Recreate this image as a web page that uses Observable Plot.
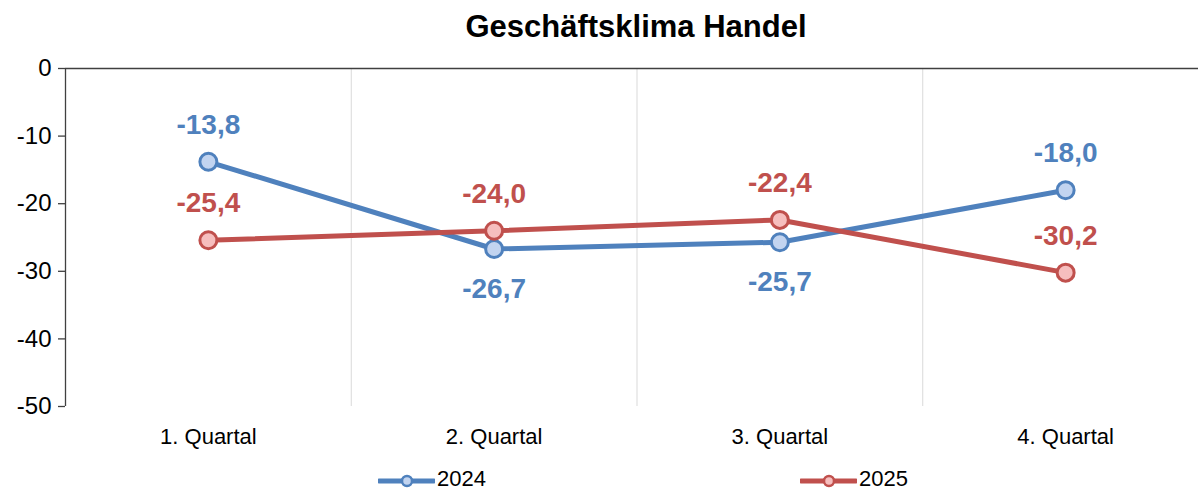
<!DOCTYPE html>
<html>
<head>
<meta charset="utf-8">
<script src="https://cdn.jsdelivr.net/npm/d3@7"></script>
<script src="https://cdn.jsdelivr.net/npm/@observablehq/plot@0.6"></script>
<style>
  html, body { margin: 0; padding: 0; background: #fff; overflow: hidden; }
  body { width: 1198px; height: 491px; font-family: "Liberation Sans", Arial, sans-serif; }
  #title { height: 54px; line-height: 54px; text-align: center; font-weight: bold; font-size: 31px; color: #000; padding-left: 74px; box-sizing: border-box; }
  #chart svg { display: block; }
  #legend { position: relative; height: 37px; }
  .swatch { position: absolute; top: 19px; display: block; }
  .label { position: absolute; top: 12px; font-size: 22px; line-height: 25px; color: #000; white-space: nowrap; }
</style>
</head>
<body>
<div id="title">Geschäftsklima Handel</div>
<div id="chart"></div>
<div id="legend"></div>
<script>
// ---- data ----
const quarters = ["1. Quartal", "2. Quartal", "3. Quartal", "4. Quartal"];
const seriesNames = ["2024", "2025"];
const values2024 = [-13.8, -26.7, -25.7, -18.0];
const values2025 = [-25.4, -24.0, -22.4, -30.2];
const yTicks = [0, -10, -20, -30, -40, -50];

// ---- styles ----
const colors = {"2024": "#4F81BD", "2025": "#C0504D"};
const fills = {"2024": "#C2D4F0", "2025": "#F6BEBE"};

const locale = d3.formatLocale({decimal: ",", thousands: ".", grouping: [3], currency: ["", "€"], minus: "-"});
const fmt = locale.format(".1f");

const rows = [];
quarters.forEach((q, i) => {
  rows.push({series: "2024", qi: i + 1, value: values2024[i], other: values2025[i]});
  rows.push({series: "2025", qi: i + 1, value: values2025[i], other: values2024[i]});
});
const r2024 = rows.filter(d => d.series === "2024");
const r2025 = rows.filter(d => d.series === "2025");
const labelsAbove = rows.filter(d => d.series === "2025" || d.value > d.other);
const labelsBelow = rows.filter(d => !(d.series === "2025" || d.value > d.other));

const gridPositions = d3.range(1.5, quarters.length, 1);

const plot = Plot.plot({
  width: 1198,
  height: 400,
  marginTop: 14,
  marginBottom: 48,
  marginLeft: 65,
  marginRight: 0,
  style: {fontFamily: "'Liberation Sans', Arial, sans-serif", color: "#000", background: "#fff"},
  x: {type: "linear", domain: [0.5, quarters.length + 0.5], range: [65, 1208]},
  y: {domain: [-50, 0]},
  marks: [
    Plot.ruleX(gridPositions, {y1: -50, y2: 0, stroke: "#D9D9D9", strokeWidth: 1}),
    Plot.ruleX([0.5], {y1: -50, y2: 0, stroke: "#404040", strokeWidth: 1.3}),
    Plot.ruleY([0], {stroke: "#404040", strokeWidth: 1.3}),
    Plot.axisY({ticks: yTicks, tickFormat: d => String(d), tickSize: 7, tickPadding: 7, fontSize: 24, label: null, stroke: "#404040", strokeWidth: 1.3}),
    Plot.axisX({ticks: quarters.map((q, i) => i + 1), tickFormat: d => quarters[d - 1], tickSize: 0, tickPadding: 22, fontSize: 22, label: null}),
    Plot.line(r2024, {x: "qi", y: "value", stroke: colors["2024"], strokeWidth: 5}),
    Plot.dot(r2024, {x: "qi", y: "value", r: 8.5, fill: fills["2024"], stroke: colors["2024"], strokeWidth: 3}),
    Plot.line(r2025, {x: "qi", y: "value", stroke: colors["2025"], strokeWidth: 5}),
    Plot.dot(r2025, {x: "qi", y: "value", r: 8.5, fill: fills["2025"], stroke: colors["2025"], strokeWidth: 3}),
    Plot.text(labelsAbove, {x: "qi", y: "value", text: d => fmt(d.value), fill: d => colors[d.series], fontSize: 28, fontWeight: "bold", dy: -37}),
    Plot.text(labelsBelow, {x: "qi", y: "value", text: d => fmt(d.value), fill: d => colors[d.series], fontSize: 28, fontWeight: "bold", dy: 40})
  ]
});
document.getElementById("chart").appendChild(plot);

// ---- legend ----
const legendLeft = {"2024": 378, "2025": 800};
const legend = document.getElementById("legend");
seriesNames.forEach(s => {
  const sw = document.createElementNS("http://www.w3.org/2000/svg", "svg");
  sw.setAttribute("class", "swatch");
  sw.setAttribute("width", 57);
  sw.setAttribute("height", 16);
  sw.style.left = legendLeft[s] + "px";
  sw.innerHTML = `<line x1="1" y1="8" x2="56" y2="8" stroke="${colors[s]}" stroke-width="5" stroke-linecap="round"/><circle cx="29" cy="8" r="5" fill="${fills[s]}" stroke="${colors[s]}" stroke-width="2.5"/>`;
  legend.appendChild(sw);
  const lab = document.createElement("span");
  lab.className = "label";
  lab.style.left = (legendLeft[s] + 59) + "px";
  lab.textContent = s;
  legend.appendChild(lab);
});
</script>
</body>
</html>
